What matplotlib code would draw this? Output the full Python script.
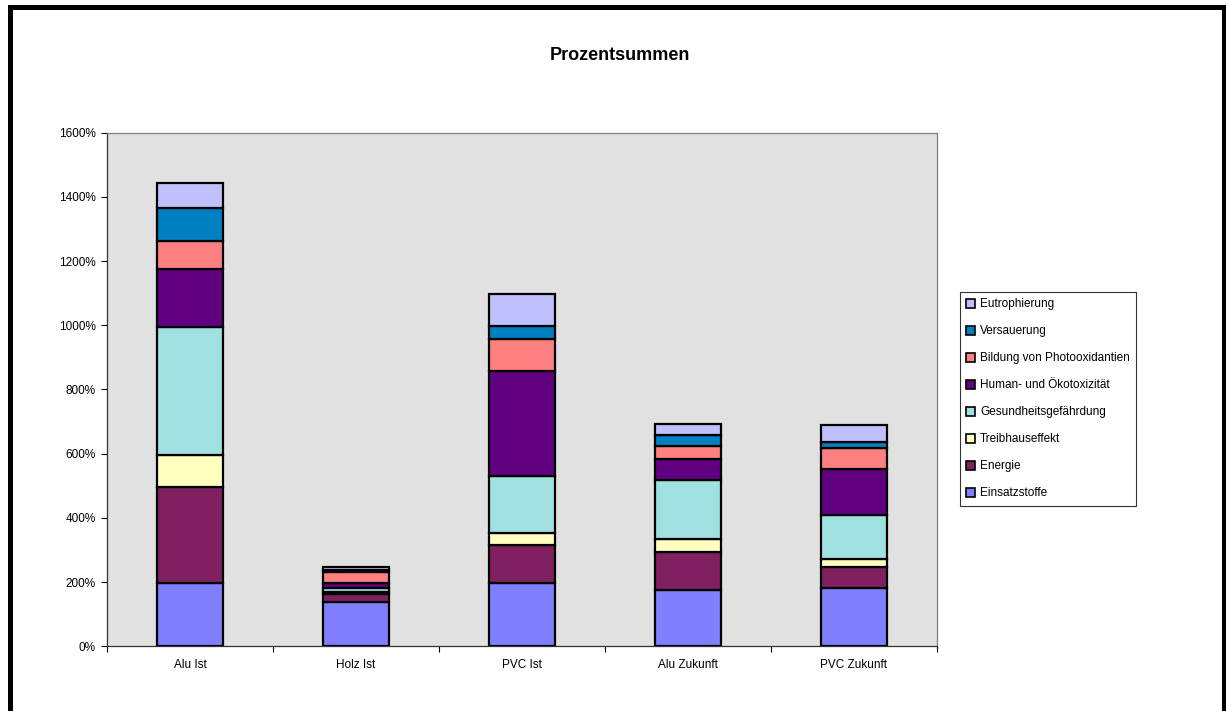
import matplotlib
matplotlib.use("Agg")
import matplotlib.pyplot as plt
from matplotlib.patches import Rectangle, Patch
import numpy as np

plt.rcParams['font.family'] = ['Liberation Sans', 'DejaVu Sans']

categories = ["Alu Ist", "Holz Ist", "PVC Ist", "Alu Zukunft", "PVC Zukunft"]

# stacked components in percent, bottom to top
einsatzstoffe = [198, 139, 198, 174, 181]
energie = [299, 24, 118, 119, 67]
treibhauseffekt = [99, 7, 36, 40, 23]
gesundheit = [398, 13, 178, 185, 138]
toxizitaet = [181, 15, 328, 67, 142]
photooxidantien = [89, 32, 98, 39, 66]
versauerung = [100, 8, 43, 34, 20]
eutrophierung = [80, 10, 98, 34, 52]

series = [
    ("Einsatzstoffe", einsatzstoffe, "#8080FF"),
    ("Energie", energie, "#802060"),
    ("Treibhauseffekt", treibhauseffekt, "#FFFFC0"),
    ("Gesundheitsgefährdung", gesundheit, "#A0E0E0"),
    ("Human- und Ökotoxizität", toxizitaet, "#600080"),
    ("Bildung von Photooxidantien", photooxidantien, "#FF8080"),
    ("Versauerung", versauerung, "#0080C0"),
    ("Eutrophierung", eutrophierung, "#C0C0FF"),
]

W, H = 1226, 711
fig = plt.figure(figsize=(W / 100, H / 100), dpi=100)

ax = fig.add_axes([107 / W, 1 - 646.3 / H, (937 - 107) / W, (646.3 - 132.7) / H])
ax.set_facecolor("#E1E1E1")

x = np.arange(len(categories))
bottom = np.zeros(len(categories))
for name, vals, col in series:
    v = np.array(vals, dtype=float)
    ax.bar(x, v, width=0.40, bottom=bottom, color=col, edgecolor="black",
           linewidth=1.6, label=name, zorder=3)
    bottom += v

fs = 8.5
ax.set_xlim(-0.5, len(categories) - 0.5)
ax.set_ylim(0, 1600)
yt = np.arange(0, 1601, 200)
ax.set_yticks(yt)
ax.set_yticklabels([f"{int(t)}%" for t in yt], fontsize=fs)
ax.set_xticks(x)
ax.set_xticklabels(categories, fontsize=fs)
ax.tick_params(axis="x", length=0, pad=9)
ax.set_xticks(np.arange(-0.5, len(categories)), minor=True)
ax.tick_params(axis="x", which="minor", length=4, width=0.8, direction="out")
ax.tick_params(axis="y", length=4, width=0.8, direction="out", pad=4)

for side in ["top", "right"]:
    ax.spines[side].set_color("#808080")
    ax.spines[side].set_linewidth(0.9)
for side in ["left", "bottom"]:
    ax.spines[side].set_color("#333333")
    ax.spines[side].set_linewidth(0.9)

fig.text(620 / W, 1 - 55 / H, "Prozentsummen", ha="center", va="center",
         fontsize=13, fontweight="bold")

handles = [Patch(facecolor=col, edgecolor="black", linewidth=1.2)
           for _, _, col in series][::-1]
labels = [name for name, _, _ in series][::-1]
leg = fig.legend(handles, labels, loc="upper left",
                 bbox_to_anchor=(960 / W, 1 - 292 / H), fontsize=fs,
                 frameon=True, fancybox=False, shadow=False,
                 handlelength=0.75, handleheight=0.75, handletextpad=0.4,
                 labelspacing=1.27, borderpad=0.55, borderaxespad=0)
leg.get_frame().set_edgecolor("black")
leg.get_frame().set_linewidth(0.8)

# outer chart frame
fig.patches.append(Rectangle((9.5 / W, -0.05), (1223.5 - 9.5) / W,
                             1 - 7.5 / H + 0.05, transform=fig.transFigure,
                             fill=False, edgecolor="black", linewidth=3.6))

fig.savefig("out.png", dpi=100)
